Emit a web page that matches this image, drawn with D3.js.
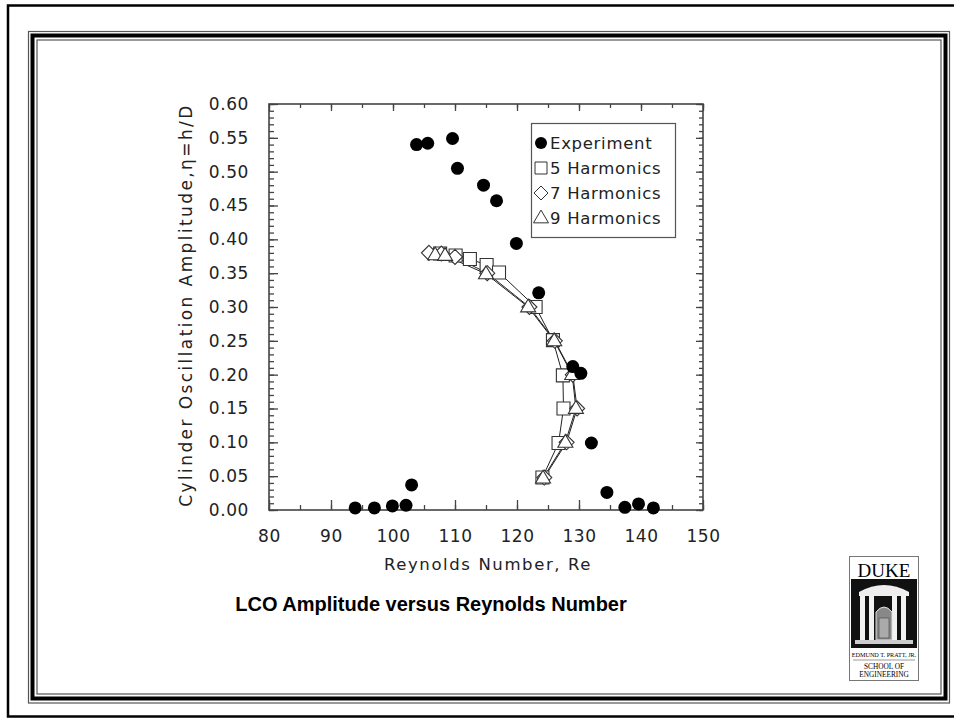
<!DOCTYPE html>
<html>
<head>
<meta charset="utf-8">
<script src="https://cdn.jsdelivr.net/npm/d3@7"></script>
<style>
  body { margin: 0; background: #fff; }
</style>
</head>
<body>
<script>
// experiment data
const exp_re = [93.9, 97.0, 99.9, 102.1, 103.0, 103.8, 105.6, 109.6, 110.4, 114.6, 116.7, 119.9, 123.5, 129.0, 130.3, 132.0, 134.5, 137.4, 139.6, 142.0];
const exp_amp = [0.003, 0.003, 0.006, 0.007, 0.037, 0.540, 0.542, 0.549, 0.505, 0.480, 0.457, 0.394, 0.321, 0.212, 0.202, 0.099, 0.026, 0.004, 0.009, 0.003];

// harmonic balance solutions
const h5_re = [107.6, 110.1, 112.4, 115.1, 117.1, 123.0, 125.8, 127.4, 127.5, 126.7, 124.1];
const h5_amp = [0.379, 0.376, 0.371, 0.362, 0.351, 0.300, 0.251, 0.199, 0.150, 0.099, 0.048];
const h7_re = [105.8, 107.8, 110.0, 115.2, 122.0, 126.1, 129.0, 129.7, 128.0, 124.4];
const h7_amp = [0.380, 0.379, 0.374, 0.350, 0.300, 0.250, 0.200, 0.150, 0.100, 0.048];
const h9_re = [106.8, 108.4, 115.0, 121.8, 126.0, 128.9, 129.5, 127.8, 124.2];
const h9_amp = [0.377, 0.376, 0.349, 0.300, 0.250, 0.200, 0.150, 0.100, 0.047];

const legend_labels = ["Experiment", "5 Harmonics", "7 Harmonics", "9 Harmonics"];
const x_ticks = [80, 90, 100, 110, 120, 130, 140, 150];
const y_ticks = [0, 0.05, 0.1, 0.15, 0.2, 0.25, 0.3, 0.35, 0.4, 0.45, 0.5, 0.55, 0.6];

const width = 954, height = 721;
const sans = "'DejaVu Sans', Verdana, sans-serif";
const serif = "'Liberation Serif', 'DejaVu Serif', serif";

const svg = d3.select("body").append("svg")
  .attr("width", width).attr("height", height);

svg.append("rect").attr("width", width).attr("height", height).attr("fill", "#fff");

// frames
svg.append("rect").attr("x", 8).attr("y", 5.5).attr("width", 960).attr("height", 711)
  .attr("fill", "none").attr("stroke", "#000").attr("stroke-width", 2.5);
svg.append("rect").attr("x", 28.5).attr("y", 31.5).attr("width", 921).attr("height", 671.5)
  .attr("fill", "none").attr("stroke", "#555").attr("stroke-width", 1.2);
svg.append("rect").attr("x", 32.5).attr("y", 35.5).attr("width", 913).attr("height", 663)
  .attr("fill", "none").attr("stroke", "#000").attr("stroke-width", 4);
svg.append("rect").attr("x", 37).attr("y", 40).attr("width", 904).attr("height", 654)
  .attr("fill", "none").attr("stroke", "#555").attr("stroke-width", 1.2);

const x = d3.scaleLinear().domain([80, 150]).range([269, 703]);
const y = d3.scaleLinear().domain([0, 0.6]).range([510, 104]);

const minorX = d3.range(80, 151, 5);
const minorY = d3.range(0, 61, 1).map(d => d / 100);
const axisColor = "#444";

function styleAxis(g) {
  g.select(".domain").remove();
  g.selectAll("line").attr("stroke", axisColor).attr("stroke-width", 1.3);
}
function styleLabels(g) {
  g.selectAll("text").style("font-family", sans).style("font-size", "17px")
    .attr("fill", "#222").attr("letter-spacing", 0.6);
}

// bottom
svg.append("g").attr("transform", "translate(0,510)")
  .call(d3.axisBottom(x).tickValues(minorX).tickSize(-5).tickFormat("")).call(styleAxis);
svg.append("g").attr("transform", "translate(0,510)")
  .call(d3.axisBottom(x).tickValues(x_ticks).tickSize(-10).tickPadding(20).tickFormat(d3.format("d")))
  .call(styleAxis).call(styleLabels);
// top
svg.append("g").attr("transform", "translate(0,104)")
  .call(d3.axisTop(x).tickValues(minorX).tickSize(-4).tickFormat("")).call(styleAxis);
svg.append("g").attr("transform", "translate(0,104)")
  .call(d3.axisTop(x).tickValues(x_ticks).tickSize(-7).tickFormat("")).call(styleAxis);
// left
svg.append("g").attr("transform", "translate(269,0)")
  .call(d3.axisLeft(y).tickValues(minorY).tickSize(-5).tickFormat("")).call(styleAxis);
svg.append("g").attr("transform", "translate(269,0)")
  .call(d3.axisLeft(y).tickValues(y_ticks).tickSize(-9).tickPadding(20).tickFormat(d3.format(".2f")))
  .call(styleAxis).call(styleLabels);
// right
svg.append("g").attr("transform", "translate(703,0)")
  .call(d3.axisRight(y).tickValues(minorY).tickSize(-4).tickFormat("")).call(styleAxis);
svg.append("g").attr("transform", "translate(703,0)")
  .call(d3.axisRight(y).tickValues(y_ticks).tickSize(-7).tickFormat("")).call(styleAxis);

// plot frame
svg.append("rect").attr("x", 269).attr("y", 104).attr("width", 434).attr("height", 406)
  .attr("fill", "none").attr("stroke", axisColor).attr("stroke-width", 1.6);

// axis titles
svg.append("text").attr("x", 488).attr("y", 570).attr("text-anchor", "middle")
  .style("font-family", sans).style("font-size", "16.5px")
  .attr("letter-spacing", 1.6).attr("fill", "#222")
  .text("Reynolds Number, Re");
svg.append("text").attr("transform", "translate(192,305) rotate(-90)").attr("text-anchor", "middle")
  .style("font-family", sans).style("font-size", "17px")
  .attr("letter-spacing", 2.4).attr("fill", "#222")
  .text("Cylinder Oscillation Amplitude,η=h/D");

// marker shapes
function squarePath(s) { return `M${-s},${-s}H${s}V${s}H${-s}Z`; }
function diamondPath(s) { return `M0,${-s}L${s},0L0,${s}L${-s},0Z`; }
function trianglePath(s) { const h = s * 1.7; return `M0,${-h * 0.62}L${s},${h * 0.38}L${-s},${h * 0.38}Z`; }

const series = [
  { re: h5_re, amp: h5_amp, shape: () => squarePath(6.5) },
  { re: h7_re, amp: h7_amp, shape: () => diamondPath(7.5) },
  { re: h9_re, amp: h9_amp, shape: () => trianglePath(7.5) },
];

const line = d3.line().x(d => x(d[0])).y(d => y(d[1]));
series.forEach(s => {
  const pts = s.re.map((r, i) => [r, s.amp[i]]);
  svg.append("path").attr("d", line(pts)).attr("fill", "none")
    .attr("stroke", "#222").attr("stroke-width", 1);
});
series.forEach(s => {
  const pts = s.re.map((r, i) => [r, s.amp[i]]);
  svg.selectAll(null).data(pts).join("path")
    .attr("transform", d => `translate(${x(d[0])},${y(d[1])})`)
    .attr("d", s.shape)
    .attr("fill", "#fff").attr("stroke", "#333").attr("stroke-width", 1.1);
});

const expPts = exp_re.map((r, i) => [r, exp_amp[i]]);
svg.selectAll(null).data(expPts).join("circle")
  .attr("cx", d => x(d[0])).attr("cy", d => y(d[1])).attr("r", 6.5).attr("fill", "#000");

// legend
const lg = svg.append("g");
lg.append("rect").attr("x", 531.5).attr("y", 123.5).attr("width", 144).attr("height", 114)
  .attr("fill", "#fff").attr("stroke", "#555").attr("stroke-width", 1.2);
const legendShapes = [
  sel => sel.append("circle").attr("r", 6).attr("fill", "#000"),
  sel => sel.append("path").attr("d", squarePath(6)).attr("fill", "#fff").attr("stroke", "#333"),
  sel => sel.append("path").attr("d", diamondPath(7)).attr("fill", "#fff").attr("stroke", "#333"),
  sel => sel.append("path").attr("d", trianglePath(7.5)).attr("fill", "#fff").attr("stroke", "#333"),
];
legend_labels.forEach((lab, i) => {
  const g = lg.append("g").attr("transform", `translate(541,${143 + i * 25})`);
  legendShapes[i](g);
  g.append("text").attr("x", 9).attr("y", 6)
    .style("font-family", sans).style("font-size", "16.5px")
    .attr("letter-spacing", 0.7).attr("fill", "#222").text(lab);
});

// title
svg.append("text").attr("x", 431).attr("y", 611).attr("text-anchor", "middle")
  .style("font-family", "'Liberation Sans', Arial, sans-serif").style("font-weight", "bold")
  .style("font-size", "20px").attr("fill", "#000")
  .text("LCO Amplitude versus Reynolds Number");

// Duke logo
const logo = svg.append("g").attr("transform", "translate(849,556)");
logo.append("rect").attr("x", 0.5).attr("y", 0.5).attr("width", 69).attr("height", 124)
  .attr("fill", "#fff").attr("stroke", "#777");
logo.append("text").attr("x", 35).attr("y", 21).attr("text-anchor", "middle")
  .style("font-family", serif).style("font-size", "19px").attr("fill", "#000").text("DUKE");
logo.append("rect").attr("x", 2).attr("y", 23).attr("width", 66).attr("height", 69).attr("fill", "#111");
logo.append("path").attr("d", "M10,36 Q35,22 60,36 L60,40 L10,40 Z").attr("fill", "#eee");
[13, 22, 45, 54].forEach(cx => {
  logo.append("rect").attr("x", cx - 2).attr("y", 40).attr("width", 5).attr("height", 44).attr("fill", "#f2f2f2");
});
logo.append("path").attr("d", "M27,84 V56 Q35,46 43,56 V84 Z").attr("fill", "#888").attr("stroke", "#ddd");
logo.append("rect").attr("x", 30).attr("y", 62).attr("width", 10).attr("height", 20)
  .attr("fill", "#aaa").attr("stroke", "#444").attr("stroke-width", 0.6);
logo.append("rect").attr("x", 6).attr("y", 84).attr("width", 58).attr("height", 4).attr("fill", "#ccc");
logo.append("text").attr("x", 35).attr("y", 101).attr("text-anchor", "middle")
  .style("font-family", serif).style("font-size", "6.2px").attr("fill", "#000").text("EDMUND T. PRATT, JR.");
logo.append("line").attr("x1", 4).attr("x2", 66).attr("y1", 104).attr("y2", 104)
  .attr("stroke", "#555").attr("stroke-width", 0.6);
logo.append("text").attr("x", 35).attr("y", 113).attr("text-anchor", "middle")
  .style("font-family", serif).style("font-size", "7.3px").attr("fill", "#000").text("SCHOOL OF");
logo.append("text").attr("x", 35).attr("y", 121).attr("text-anchor", "middle")
  .style("font-family", serif).style("font-size", "7.3px").attr("fill", "#000").text("ENGINEERING");
</script>
</body>
</html>
